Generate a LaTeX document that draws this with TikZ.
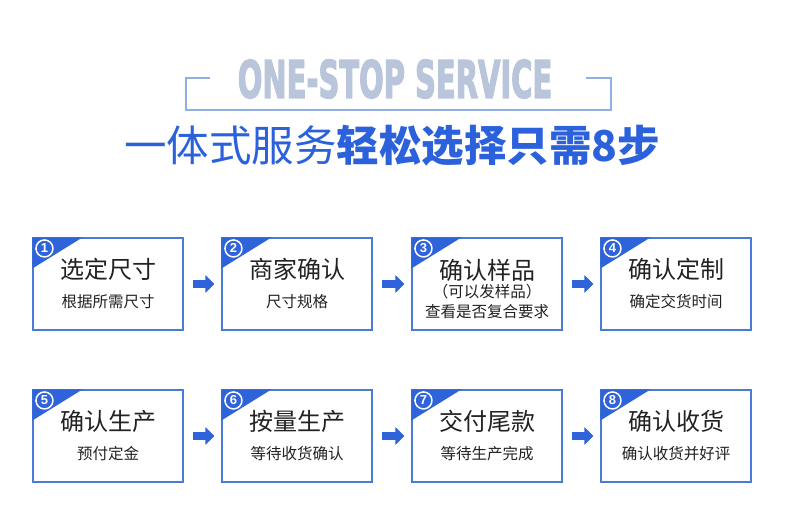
\documentclass[tikz,border=0pt]{standalone}
\usepackage{fontspec}
\usepackage{tikz}
\usetikzlibrary{arrows.meta,calc}
\newfontfamily\cjk{Noto Sans CJK SC}
\newfontfamily\headfont[BoldFeatures={FakeBold=3}]{DejaVu Sans Condensed}
\newfontfamily\numfont{Liberation Sans}
\definecolor{boxblue}{HTML}{4A7BD6}
\definecolor{tagblue}{HTML}{2E63DA}
\definecolor{titleblue}{HTML}{2C61DC}
\definecolor{headgray}{HTML}{B8C5DA}
\definecolor{rimblue}{HTML}{8FB0E0}
\definecolor{inkgray}{HTML}{222222}

\begin{document}
\begin{tikzpicture}[
		x=1pt,
		y=-1pt,
		>=Latex,
		card/.style={draw=boxblue, line width=1.1pt, minimum width=150pt, minimum height=92pt, inner sep=0pt},
		headtxt/.style={font=\cjk\fontsize{24}{26}\selectfont, text=inkgray, inner sep=0pt},
		subtxt/.style={font=\cjk\fontsize{15.5}{18}\selectfont, text=inkgray, inner sep=0pt},
		num/.style={circle, draw=white, line width=1.5pt, text=white, inner sep=0pt, minimum size=17pt, font=\numfont\bfseries\fontsize{13}{13}\selectfont},
		flow/.style={draw=tagblue, line width=8pt, -{Triangle[length=9pt,width=17pt]}, shorten <=9pt, shorten >=7pt}
		]
		
		\useasboundingbox[fill=white] (0,0) rectangle (790,524);
		
		% heading
		\node[text=headgray, inner sep=0pt, font=\headfont\bfseries\fontsize{46}{46}\selectfont] (eng) at (395,79)
		{\scalebox{0.70}[1.12]{ONE-STOP SERVICE}};
		\draw[rimblue, line width=1.1pt] (210,78) -- (186,78) -- (186,110) -- (611,110) -- (611,78) -- (586,78);
		\node[text=titleblue, font=\cjk\fontsize{42.5}{42.5}\selectfont] (title) at (392,146)
		{一体式服务\textbf{轻松选择只需8步}};
		
		% first row
		\node[card] (c1) at (108,284) {};
		\node[card] (c2) at (297,284) {};
		\node[card] (c3) at (487,284) {};
		\node[card] (c4) at (676,284) {};
		
		% second row
		\node[card] (c5) at (108,436) {};
		\node[card] (c6) at (297,436) {};
		\node[card] (c7) at (487,436) {};
		\node[card] (c8) at (676,436) {};
		
		% corner tags
		\fill[tagblue] (c1.north west) -- ++(50,0) -- ++(-50,31) -- cycle;
		\fill[tagblue] (c2.north west) -- ++(50,0) -- ++(-50,31) -- cycle;
		\fill[tagblue] (c3.north west) -- ++(50,0) -- ++(-50,31) -- cycle;
		\fill[tagblue] (c4.north west) -- ++(50,0) -- ++(-50,31) -- cycle;
		\fill[tagblue] (c5.north west) -- ++(50,0) -- ++(-50,31) -- cycle;
		\fill[tagblue] (c6.north west) -- ++(50,0) -- ++(-50,31) -- cycle;
		\fill[tagblue] (c7.north west) -- ++(50,0) -- ++(-50,31) -- cycle;
		\fill[tagblue] (c8.north west) -- ++(50,0) -- ++(-50,31) -- cycle;
		\node[num] (n1) at ($(c1.north west)+(12,11)$) {1};
		\node[num] (n2) at ($(c2.north west)+(12,11)$) {2};
		\node[num] (n3) at ($(c3.north west)+(12,11)$) {3};
		\node[num] (n4) at ($(c4.north west)+(12,11)$) {4};
		\node[num] (n5) at ($(c5.north west)+(12,11)$) {5};
		\node[num] (n6) at ($(c6.north west)+(12,11)$) {6};
		\node[num] (n7) at ($(c7.north west)+(12,11)$) {7};
		\node[num] (n8) at ($(c8.north west)+(12,11)$) {8};
		
		% card texts
		\node[headtxt] (h1) at ($(c1)+(0,-15)$) {选定尺寸};
		\node[subtxt] (s1) at ($(c1)+(0,18)$) {根据所需尺寸};
		\node[headtxt] (h2) at ($(c2)+(0,-15)$) {商家确认};
		\node[subtxt] (s2) at ($(c2)+(0,18)$) {尺寸规格};
		\node[headtxt] (h3) at ($(c3)+(0,-14)$) {确认样品};
		\node[subtxt] (s3) at ($(c3)+(0,8)$) {（可以发样品）};
		\node[subtxt] (u3) at ($(c3)+(0,28)$) {查看是否复合要求};
		\node[headtxt] (h4) at ($(c4)+(0,-15)$) {确认定制};
		\node[subtxt] (s4) at ($(c4)+(0,18)$) {确定交货时间};
		\node[headtxt] (h5) at ($(c5)+(0,-15)$) {确认生产};
		\node[subtxt] (s5) at ($(c5)+(0,18)$) {预付定金};
		\node[headtxt] (h6) at ($(c6)+(0,-15)$) {按量生产};
		\node[subtxt] (s6) at ($(c6)+(0,18)$) {等待收货确认};
		\node[headtxt] (h7) at ($(c7)+(0,-15)$) {交付尾款};
		\node[subtxt] (s7) at ($(c7)+(0,18)$) {等待生产完成};
		\node[headtxt] (h8) at ($(c8)+(0,-15)$) {确认收货};
		\node[subtxt] (s8) at ($(c8)+(0,18)$) {确认收货并好评};
		
		% arrows
		\draw[flow] (c1) -- (c2);
		\draw[flow] (c2) -- (c3);
		\draw[flow] (c3) -- (c4);
		\draw[flow] (c5) -- (c6);
		\draw[flow] (c6) -- (c7);
		\draw[flow] (c7) -- (c8);
		
	\end{tikzpicture}
\end{document}
